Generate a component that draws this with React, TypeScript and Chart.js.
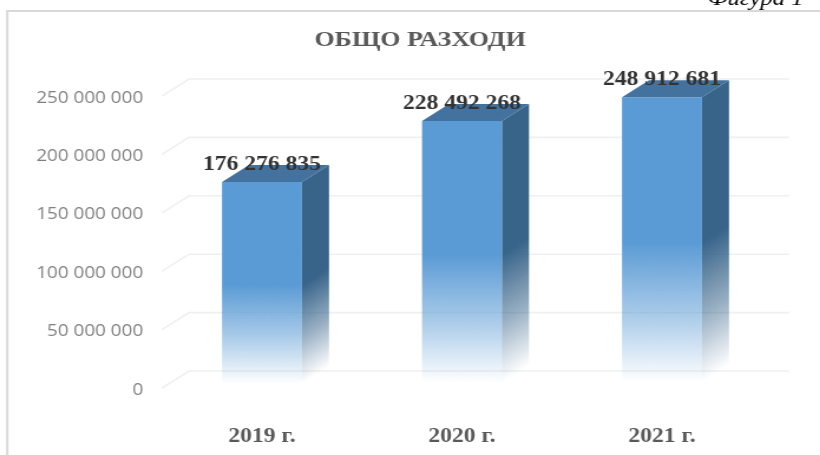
import React, { useEffect, useRef } from "react";
import { Chart, registerables } from "chart.js";

Chart.register(...registerables);

const categories = ["2019 г.", "2020 г.", "2021 г."];
const totals = [176276835, 228492268, 248912681];
const chartTitle = "ОБЩО РАЗХОДИ";
const figureCaption = "Фигура 1";
const axisMax = 250000000;
const axisStep = 50000000;

const STRETCH = 1.18;
const CANVAS_W = Math.round(820 / STRETCH);
const CANVAS_H = 455;
const DEPTH_X = 27 / STRETCH;
const DEPTH_Y = 17;
const PAD_RIGHT = CANVAS_W - 762 / STRETCH;
const PAD_LEFT = PAD_RIGHT + 17;

const spaced = (n: number) => String(n).replace(/\B(?=(\d{3})+(?!\d))/g, " ");

function addStops(g: CanvasGradient, rgb: string) {
  g.addColorStop(0, `rgba(${rgb},1)`);
  g.addColorStop(0.5, `rgba(${rgb},1)`);
  g.addColorStop(0.75, `rgba(${rgb},0.52)`);
  g.addColorStop(0.98, `rgba(${rgb},0)`);
  return g;
}

const framePlugin = {
  id: "frame",
  beforeDraw(chart: any) {
    // let the y tick labels use the whole left margin (the scale box is narrower because of the title centring)
    chart.scales.y.left = 0;
    const { ctx } = chart;
    ctx.save();
    ctx.strokeStyle = "#d9d9d9";
    ctx.lineWidth = 2;
    ctx.beginPath();
    ctx.moveTo(6.2, CANVAS_H);
    ctx.lineTo(6.2, 11);
    ctx.lineTo(CANVAS_W, 11);
    ctx.stroke();
    ctx.fillStyle = "#000";
    ctx.font = "italic 21px 'Liberation Serif'";
    ctx.textAlign = "right";
    ctx.fillText(figureCaption, 681, 5);
    ctx.restore();
  },
};

const wallPlugin = {
  id: "wall",
  beforeDatasetsDraw(chart: any) {
    const { ctx, chartArea, scales } = chart;
    ctx.save();
    scales.y.ticks.forEach((t: any) => {
      const y = scales.y.getPixelForValue(t.value);
      ctx.strokeStyle = "#f0f0f0";
      ctx.lineWidth = 1.6;
      ctx.beginPath();
      ctx.moveTo(chartArea.left, y);
      ctx.lineTo(chartArea.left + DEPTH_X, y - DEPTH_Y);
      ctx.lineTo(chartArea.right + DEPTH_X, y - DEPTH_Y);
      ctx.stroke();
    });
    ctx.restore();
  },
};

const solidPlugin = {
  id: "solid",
  afterDatasetsDraw(chart: any) {
    const { ctx } = chart;
    const meta = chart.getDatasetMeta(0);
    const nLen = Math.hypot(DEPTH_X, DEPTH_Y);
    const nx = DEPTH_Y / nLen;
    const ny = DEPTH_X / nLen;
    meta.data.forEach((bar: any) => {
      const left = bar.x - bar.width / 2;
      const right = bar.x + bar.width / 2;
      ctx.save();
      ctx.fillStyle = "#44729f";
      ctx.beginPath();
      ctx.moveTo(left, bar.y);
      ctx.lineTo(left + DEPTH_X, bar.y - DEPTH_Y);
      ctx.lineTo(right + DEPTH_X, bar.y - DEPTH_Y);
      ctx.lineTo(right, bar.y);
      ctx.closePath();
      ctx.fill();
      const dist = (bar.base - bar.y) * ny;
      const grad = ctx.createLinearGradient(right, bar.y, right + nx * dist, bar.y + ny * dist);
      ctx.fillStyle = addStops(grad, "56,100,138");
      ctx.beginPath();
      ctx.moveTo(right, bar.y);
      ctx.lineTo(right + DEPTH_X, bar.y - DEPTH_Y);
      ctx.lineTo(right + DEPTH_X, bar.base - DEPTH_Y);
      ctx.lineTo(right, bar.base);
      ctx.closePath();
      ctx.fill();
      ctx.restore();
    });
    ctx.save();
    ctx.fillStyle = "#333333";
    ctx.font = "bold 20px 'Liberation Serif'";
    ctx.textAlign = "center";
    ctx.textBaseline = "middle";
    meta.data.forEach((bar: any, i: number) => {
      ctx.fillText(spaced(totals[i]), bar.x, bar.y - 17);
    });
    ctx.restore();
  },
};

export default function App() {
  const ref = useRef<HTMLCanvasElement>(null);
  useEffect(() => {
    const chart = new Chart(ref.current as HTMLCanvasElement, {
      type: "bar",
      data: {
        labels: categories,
        datasets: [
          {
            data: totals,
            barPercentage: 0.4,
            categoryPercentage: 1,
            backgroundColor: (c: any) => {
              const { chart: ch, dataIndex } = c;
              if (!ch.chartArea || dataIndex === undefined) return "#5b9bd5";
              const y = ch.scales.y;
              const g = ch.ctx.createLinearGradient(0, y.getPixelForValue(totals[dataIndex]), 0, y.getPixelForValue(0));
              return addStops(g, "91,155,213");
            },
          },
        ],
      },
      options: {
        responsive: false,
        animation: false,
        devicePixelRatio: 1,
        layout: { padding: { left: PAD_LEFT, right: PAD_RIGHT, top: 0, bottom: 0 } },
        plugins: {
          legend: { display: false },
          tooltip: { enabled: false },
          title: {
            display: true,
            text: chartTitle,
            color: "#595959",
            font: { family: "'Liberation Serif'", size: 22, weight: "bold", lineHeight: 1.2 },
            padding: { top: 27.3, bottom: 42.3 },
          },
        },
        scales: {
          x: {
            grid: { display: false },
            border: { display: false },
            afterFit: (s: any) => {
              s.height = 67;
            },
            ticks: {
              color: "#595959",
              padding: 29,
              maxRotation: 0,
              font: { family: "'Liberation Serif'", size: 20, weight: "bold" },
            },
          },
          y: {
            min: 0,
            max: axisMax,
            grid: { display: false },
            border: { display: false },
            afterFit: (s: any) => {
              s.width = 162 / STRETCH - PAD_LEFT;
            },
            ticks: {
              stepSize: axisStep,
              color: "#7f7f7f",
              padding: 8,
              font: { family: "'Open Sans'", size: 16, lineHeight: "4px" },
              callback: (v: any) => ["", spaced(Number(v))],
            },
          },
        },
      },
      plugins: [framePlugin, wallPlugin, solidPlugin],
    } as any);
    return () => chart.destroy();
  }, []);
  return (
    <div style={{ position: "fixed", left: 0, top: 0, width: 820, height: 455, overflow: "hidden", background: "#fff" }}>
      <canvas
        ref={ref}
        width={CANVAS_W}
        height={CANVAS_H}
        style={{ position: "absolute", left: 0, top: 0, transform: `scaleX(${STRETCH})`, transformOrigin: "0 0", filter: "blur(0.5px)" }}
      />
    </div>
  );
}
